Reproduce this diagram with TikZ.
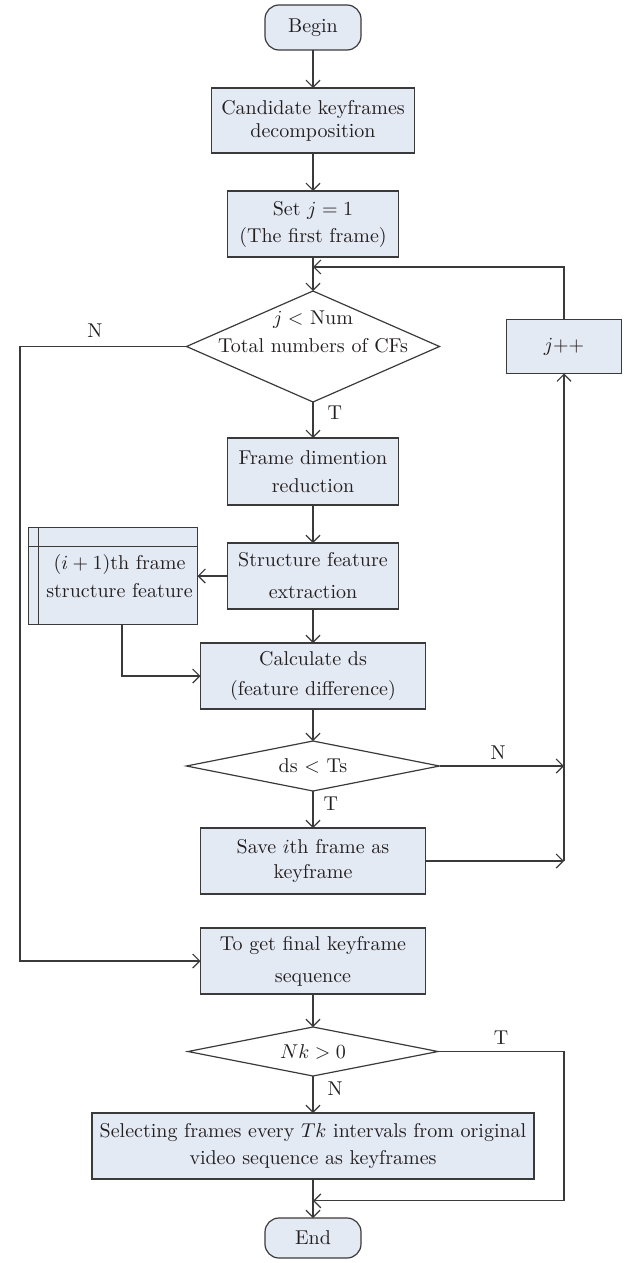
\documentclass[tikz,border=0pt]{standalone}
\usepackage{tikz}
\usetikzlibrary{arrows.meta,positioning,shapes.geometric,calc}
\definecolor{flowInk}{HTML}{231F20}
\definecolor{flowLine}{HTML}{3A3A3A}
\definecolor{flowFill}{HTML}{E4EAF4}
\newcommand{\dlabel}[2][0pt]{\makebox[0pt]{\raisebox{#1}[0pt][0pt]{\begin{tabular}{@{}c@{}}#2\end{tabular}}}}
\tikzset{
    >={Straight Barb[length=3.5pt,width=7pt]},
    lead/.style={font=\fontsize{10}{#1}\selectfont},
    proc/.style={draw=flowLine, fill=flowFill, line width=0.6pt, outer sep=0pt, align=center, text=flowInk, inner xsep=2pt, inner ysep=1pt, minimum width=85.5pt, minimum height=33pt},
    term/.style={proc, rounded corners=7pt, minimum width=48pt, minimum height=22.5pt},
    stored/.style={proc, minimum width=84.5pt, minimum height=48.5pt},
    decision/.style={diamond, aspect=5, draw=flowLine, line width=0.6pt, outer sep=0pt, text=flowInk, inner sep=0pt, minimum width=126.5pt, minimum height=25pt},
    arrow/.style={->, line width=0.6pt, draw=flowLine},
    link/.style={line width=0.6pt, draw=flowLine},
    tf/.style={text=flowInk, inner sep=2pt}
}

\begin{document}
\begin{tikzpicture}[x=1pt, y=1pt, lead=13.5pt, node distance=18pt]
\useasboundingbox (0,0) rectangle (312.5,-631.5);
\node[term] (begin) at (156.5,-13.75) {Begin};
\node[proc, lead=11.5pt, below=19pt of begin, minimum width=101.5pt, minimum height=32.5pt] (cand) {Candidate keyframes\\decomposition};
\node[proc, below=19pt of cand] (setj) {Set $j=1$\\(The first frame)};
\node[decision, lead=14pt, below=17pt of setj, minimum height=55.5pt] (numtest) {\dlabel[4.3pt]{$j<$ Num\\Total numbers of CFs}};
\node[proc, right=33.5pt of numtest, minimum width=57.5pt, minimum height=27pt] (jinc) {$j$++};
\node[proc, lead=14pt, below=18pt of numtest, minimum height=33.5pt] (reduce) {Frame dimention\\reduction};
\node[proc, lead=16pt, below=19pt of reduce] (extract) {Structure feature\\extraction};
\node[stored, lead=14pt, left=15pt of extract] (nextfeat) {\hspace*{6.5pt}$(i+1)$th frame\\\hspace*{6.5pt}structure feature};
\node[proc, lead=15pt, below=17pt of extract, minimum width=112.5pt] (calc) {Calculate ds\\(feature difference)};
\node[decision, below=16pt of calc] (dstest) {ds $<$ Ts};
\node[proc, lead=12.5pt, below=18.5pt of dstest, minimum width=112.5pt] (save) {Save $i$th frame as\\keyframe};
\node[proc, lead=16pt, below=17pt of save, minimum width=112.5pt] (final) {To get final keyframe\\sequence};
\node[decision, below=16.5pt of final, minimum width=125pt, minimum height=24.5pt] (nktest) {$Nk>0$};
\node[proc, below=18.5pt of nktest, minimum width=221pt] (select) {Selecting frames every $Tk$ intervals from original\\video sequence as keyframes};
\node[term, below=19.5pt of select, minimum height=20pt] (end) {End};
\draw[link] ([xshift=5pt]nextfeat.north west) -- ([xshift=5pt]nextfeat.south west); \draw[link] ([yshift=-9.5pt]nextfeat.north west) -- ([yshift=-9.5pt]nextfeat.north east);
\coordinate[below=5pt of setj] (back);
\coordinate (rjoin) at (dstest.east -| jinc.south);
\coordinate (sjoin) at (save.east -| jinc.south);
\coordinate (tjoin) at ($(select.south)!0.56!(end.north)$);
\draw[arrow] (begin)--(cand); \draw[arrow] (cand)--(setj); \draw[arrow] (setj)--(numtest);
\draw[arrow] (numtest)-- node[tf, right=5pt, pos=.3] {T} (reduce); \draw[arrow] (reduce)--(extract); \draw[arrow] (extract)--(nextfeat); \draw[arrow] (extract)--(calc);
\draw[arrow] ([xshift=4.5pt]nextfeat.south) |- (calc.west); \draw[arrow] (calc)--(dstest);
\draw[arrow] (dstest)-- node[tf, right=3pt, pos=.35] {T} (save);
\draw[arrow] (dstest.east)-- node[tf, above=1pt, pos=.47] {N} (rjoin); \draw[arrow] (save)--(sjoin); \draw[arrow] (sjoin)--(jinc); \draw[arrow] (jinc) |- (back);
\draw[arrow] (numtest.west)-- node[tf, above=2pt, pos=.55] {N} ++(-83.25,0) |- (final.west);
\draw[arrow] (final)--(nktest); \draw[arrow] (nktest)-- node[tf, right=5pt, pos=.35] {N} (select); \draw[arrow] (select)--(end);
\draw[arrow] (nktest.east)-- node[tf, above=1pt] {T} (nktest.east -| jinc.south) |- (tjoin);
\end{tikzpicture}
\end{document}
